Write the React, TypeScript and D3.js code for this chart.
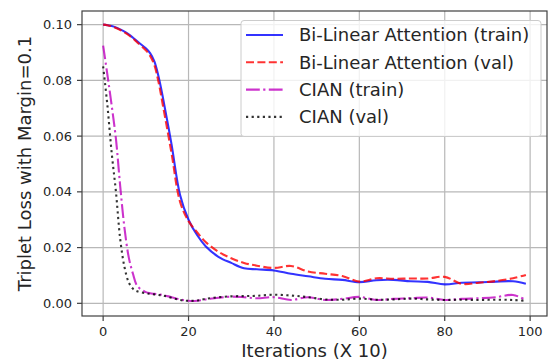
import * as d3 from "d3";
import React from "react";

const iterations = [
  0, 1, 2, 3, 4, 5, 6, 7, 8, 10, 11, 12, 13, 14, 16, 18, 20, 22, 24, 27, 30,
  33, 36, 40, 44, 48, 52, 56, 60, 64, 68, 72, 76, 80, 84, 88, 92, 96, 99,
];

const bilinearTrain = [
  0.1, 0.0998, 0.0995, 0.099, 0.0983, 0.0975, 0.0965, 0.0953, 0.094, 0.0915,
  0.0898, 0.0868, 0.0812, 0.0738, 0.0572, 0.039, 0.03, 0.0245, 0.0205, 0.0167,
  0.0145, 0.0126, 0.0122, 0.0118, 0.0106, 0.0097, 0.0088, 0.0084, 0.0076,
  0.0083, 0.0084, 0.0079, 0.0077, 0.0068, 0.0074, 0.0075, 0.0078, 0.0079,
  0.007,
];

const bilinearVal = [
  0.1, 0.0998, 0.0994, 0.0988, 0.0981, 0.0972, 0.0962, 0.095, 0.0936, 0.0908,
  0.0888, 0.0855, 0.0792, 0.071, 0.054, 0.0365, 0.0295, 0.0255, 0.022, 0.0185,
  0.0162, 0.0145, 0.0135, 0.0127, 0.0134, 0.0114, 0.0106, 0.0098, 0.0078,
  0.009, 0.0088, 0.0089, 0.0089, 0.0095, 0.007, 0.0074, 0.008, 0.009, 0.0102,
];

const cianTrain = [
  0.0925, 0.082, 0.071, 0.059, 0.042, 0.027, 0.0165, 0.0105, 0.0062, 0.004,
  0.0036, 0.0034, 0.0032, 0.003, 0.0022, 0.0014, 0.0009, 0.0009, 0.0014, 0.002,
  0.0024, 0.0022, 0.0018, 0.0022, 0.0012, 0.0022, 0.0012, 0.0016, 0.0023,
  0.0012, 0.0016, 0.0018, 0.0021, 0.0012, 0.0016, 0.0018, 0.0022, 0.003,
  0.0012,
];

const cianVal = [
  0.085, 0.071, 0.054, 0.04, 0.023, 0.013, 0.0075, 0.0052, 0.0043, 0.0036,
  0.0034, 0.0032, 0.003, 0.0028, 0.002, 0.0012, 0.0009, 0.001, 0.0016, 0.0022,
  0.0025, 0.0026, 0.0027, 0.0031, 0.0028, 0.0022, 0.0014, 0.0013, 0.0017,
  0.0013, 0.0014, 0.0017, 0.0014, 0.0012, 0.0013, 0.0012, 0.0013, 0.0012,
  0.0009,
];

const xTicks = [0, 20, 40, 60, 80, 100];
const yTicks = [0, 0.02, 0.04, 0.06, 0.08, 0.1];

const series = [
  { label: "Bi-Linear Attention (train)", values: bilinearTrain, color: "#0000ff", dash: "none" },
  { label: "Bi-Linear Attention (val)", values: bilinearVal, color: "#ff0000", dash: "8,3.4" },
  { label: "CIAN (train)", values: cianTrain, color: "#bf00bf", dash: "13.8,3.4,2.2,3.4" },
  { label: "CIAN (val)", values: cianVal, color: "#000000", dash: "2.2,3.4" },
];

const W = 553;
const H = 362;
const margin = { top: 11, right: 6, bottom: 46, left: 82 };
const FONT = "DejaVu Sans";

export default function App() {
  const x = d3
    .scaleLinear()
    .domain([-4.95, 103.95])
    .range([margin.left, W - margin.right]);
  const y = d3
    .scaleLinear()
    .domain([-0.00455, 0.1049])
    .range([H - margin.bottom, margin.top]);

  const line = (vals: number[]) =>
    d3
      .line<number>()
      .x((_, i) => x(iterations[i]))
      .y((d) => y(d))
      .curve(d3.curveCatmullRom.alpha(0.5))(vals) || "";

  const [x0, x1] = x.range();
  const [y0, y1] = y.range();

  // legend box
  const lg = { x: 241, y: 20.5, w: 300, h: 116, row: 27.3 };

  return (
    <svg
      width={W}
      height={H}
      style={{ position: "absolute", left: 0, top: 0, background: "#fff" }}
      fontFamily={FONT}
    >
      <defs>
        <clipPath id="plot-clip">
          <rect x={x0} y={y1} width={x1 - x0} height={y0 - y1} />
        </clipPath>
      </defs>

      {/* grid */}
      {xTicks.map((t) => (
        <line key={"gx" + t} x1={x(t)} x2={x(t)} y1={y1} y2={y0} stroke="#b8b8b8" strokeWidth={1.2} />
      ))}
      {yTicks.map((t) => (
        <line key={"gy" + t} x1={x0} x2={x1} y1={y(t)} y2={y(t)} stroke="#b8b8b8" strokeWidth={1.2} />
      ))}

      {/* lines */}
      <g clipPath="url(#plot-clip)">
        {series.map((s) => (
          <path
            key={s.label}
            d={line(s.values)}
            fill="none"
            stroke={s.color}
            strokeOpacity={0.8}
            strokeWidth={2.1}
            strokeDasharray={s.dash}
          />
        ))}
      </g>

      {/* spines */}
      <rect x={x0} y={y1} width={x1 - x0} height={y0 - y1} fill="none" stroke="#404040" strokeWidth={1.2} />

      {/* x ticks */}
      {xTicks.map((t) => (
        <g key={"xt" + t}>
          <line x1={x(t)} x2={x(t)} y1={y0} y2={y0 + 5} stroke="#404040" strokeWidth={1.2} />
          <text x={x(t)} y={y0 + 20} textAnchor="middle" fontSize={13} fill="#262626">
            {t}
          </text>
        </g>
      ))}

      {/* y ticks */}
      {yTicks.map((t) => (
        <g key={"yt" + t}>
          <line x1={x0 - 5} x2={x0} y1={y(t)} y2={y(t)} stroke="#404040" strokeWidth={1.2} />
          <text x={x0 - 10} y={y(t)} dy="0.35em" textAnchor="end" fontSize={13} fill="#262626">
            {d3.format(".2f")(t)}
          </text>
        </g>
      ))}

      {/* axis labels */}
      <text x={(x0 + x1) / 2} y={357} textAnchor="middle" fontSize={18} fill="#262626">
        Iterations (X 10)
      </text>
      <text
        transform={`translate(30.5, ${(y0 + y1) / 2}) rotate(-90)`}
        textAnchor="middle"
        fontSize={18}
        fill="#262626"
      >
        Triplet Loss with Margin=0.1
      </text>

      {/* legend */}
      <rect
        x={lg.x}
        y={lg.y}
        width={lg.w}
        height={lg.h}
        rx={3}
        fill="#fff"
        fillOpacity={0.8}
        stroke="#cccccc"
        strokeWidth={1}
      />
      {series.map((s, i) => {
        const ry = lg.y + 14.5 + i * lg.row;
        return (
          <g key={"lg" + s.label}>
            <line
              x1={lg.x + 5}
              x2={lg.x + 42}
              y1={ry}
              y2={ry}
              stroke={s.color}
              strokeOpacity={0.8}
              strokeWidth={2.1}
              strokeDasharray={s.dash}
            />
            <text x={lg.x + 58} y={ry} dy="0.35em" fontSize={18} fill="#262626">
              {s.label}
            </text>
          </g>
        );
      })}
    </svg>
  );
}
